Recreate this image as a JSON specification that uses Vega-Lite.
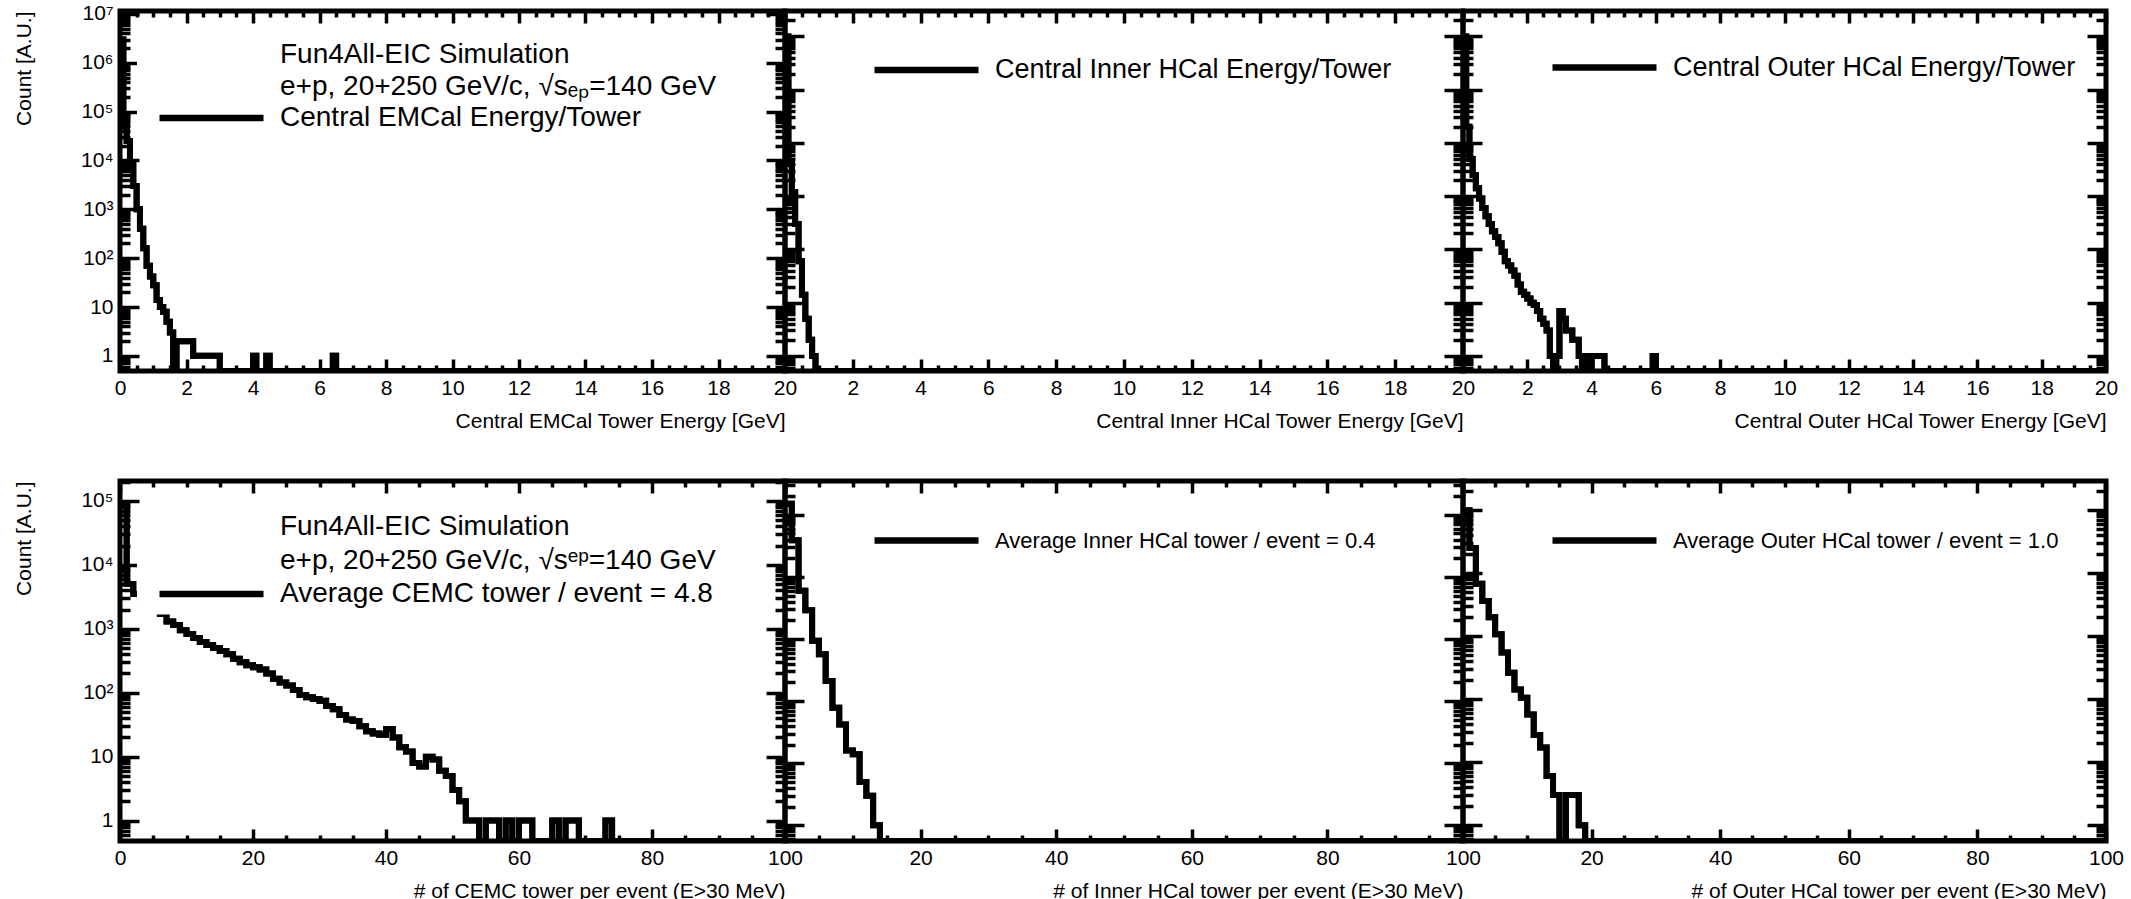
{
"$schema": "https://vega.github.io/schema/vega-lite/v6.json",
"background": "white",
"padding": {"left": 11, "top": 0, "right": 10, "bottom": 0},
"config": {
  "font": "Liberation Sans",
  "view": {"stroke": "black", "strokeWidth": 5},
  "axis": {"domain": false, "grid": false, "tickColor": "black", "tickWidth": 3.5, "labelFont": "Liberation Sans", "labelFontSize": 21, "labelColor": "black", "labelOverlap": false, "labelFlush": false, "titleFont": "Liberation Sans", "titleFontSize": 21, "titleFontWeight": "normal", "titleColor": "black"},
  "legend": {"labelFont": "Liberation Sans", "labelFontSize": 28, "labelColor": "black", "labelLimit": 0, "padding": 6, "fillColor": "white", "symbolType": "M-1,0H7", "symbolSize": 676, "symbolStrokeWidth": 6.5, "symbolOffset": 13, "rowPadding": 0}
},
"datasets": {
  "emcalE": [
    {"e":0,"c":3000000},{"e":0.1,"c":50000},{"e":0.2,"c":25000},{"e":0.3,"c":8000},{"e":0.4,"c":3000},{"e":0.5,"c":1000},{"e":0.6,"c":400},{"e":0.7,"c":160},{"e":0.8,"c":70},{"e":0.9,"c":42},{"e":1.0,"c":28},{"e":1.1,"c":14},{"e":1.2,"c":10},{"e":1.3,"c":8},{"e":1.4,"c":5},{"e":1.5,"c":3},{"e":1.6,"c":0},{"e":1.7,"c":2},{"e":1.8,"c":2},{"e":1.9,"c":2},{"e":2.0,"c":2},{"e":2.1,"c":2},{"e":2.2,"c":1},{"e":2.3,"c":1},{"e":2.4,"c":1},{"e":2.5,"c":1},{"e":2.6,"c":1},{"e":2.7,"c":1},{"e":2.8,"c":1},{"e":2.9,"c":1},{"e":3.0,"c":0},{"e":4.0,"c":1},{"e":4.1,"c":0},{"e":4.4,"c":1},{"e":4.5,"c":0},{"e":6.4,"c":1},{"e":6.5,"c":0},{"e":20,"c":0}
  ],
  "ihcalE": [
    {"e":0,"c":1000000},{"e":0.1,"c":4000},{"e":0.2,"c":1200},{"e":0.3,"c":300},{"e":0.4,"c":60},{"e":0.5,"c":14},{"e":0.6,"c":5},{"e":0.7,"c":2},{"e":0.8,"c":1},{"e":0.9,"c":0},{"e":20,"c":0}
  ],
  "ohcalE": [
    {"e":0,"c":1000000},{"e":0.1,"c":20000},{"e":0.2,"c":5000},{"e":0.3,"c":2500},{"e":0.4,"c":1400},{"e":0.5,"c":900},{"e":0.6,"c":600},{"e":0.7,"c":420},{"e":0.8,"c":300},{"e":0.9,"c":220},{"e":1.0,"c":170},{"e":1.1,"c":130},{"e":1.2,"c":90},{"e":1.3,"c":60},{"e":1.4,"c":50},{"e":1.5,"c":40},{"e":1.6,"c":32},{"e":1.7,"c":22},{"e":1.8,"c":16},{"e":1.9,"c":14},{"e":2.0,"c":12},{"e":2.1,"c":10},{"e":2.2,"c":9},{"e":2.3,"c":7},{"e":2.4,"c":5},{"e":2.5,"c":4},{"e":2.6,"c":3},{"e":2.7,"c":1},{"e":2.8,"c":0},{"e":2.9,"c":1},{"e":3.0,"c":7},{"e":3.1,"c":5},{"e":3.2,"c":3},{"e":3.3,"c":3},{"e":3.4,"c":2},{"e":3.5,"c":2},{"e":3.6,"c":1},{"e":3.7,"c":0},{"e":3.8,"c":1},{"e":3.9,"c":0},{"e":4.0,"c":1},{"e":4.1,"c":1},{"e":4.2,"c":1},{"e":4.3,"c":1},{"e":4.4,"c":0},{"e":5.9,"c":1},{"e":6.0,"c":0},{"e":20,"c":0}
  ],
  "emcalN": [
    {"n":0,"c":90000},{"n":1,"c":5000},{"n":2,"c":3500},{"n":3,"c":3000},{"n":4,"c":2500},{"n":5,"c":2000},{"n":6,"c":1700},{"n":7,"c":1300},{"n":8,"c":1150},{"n":9,"c":950},{"n":10,"c":830},{"n":11,"c":720},{"n":12,"c":620},{"n":13,"c":560},{"n":14,"c":500},{"n":15,"c":450},{"n":16,"c":400},{"n":17,"c":340},{"n":18,"c":300},{"n":19,"c":270},{"n":20,"c":250},{"n":21,"c":230},{"n":22,"c":200},{"n":23,"c":165},{"n":24,"c":145},{"n":25,"c":130},{"n":26,"c":110},{"n":27,"c":92},{"n":28,"c":85},{"n":29,"c":80},{"n":30,"c":75},{"n":31,"c":62},{"n":32,"c":55},{"n":33,"c":45},{"n":34,"c":38},{"n":35,"c":36},{"n":36,"c":30},{"n":37,"c":25},{"n":38,"c":23},{"n":39,"c":22},{"n":40,"c":27},{"n":41,"c":20},{"n":42,"c":14},{"n":43,"c":12},{"n":44,"c":8},{"n":45,"c":7},{"n":46,"c":10},{"n":47,"c":9},{"n":48,"c":6},{"n":49,"c":5},{"n":50,"c":3},{"n":51,"c":2},{"n":52,"c":1},{"n":53,"c":1},{"n":54,"c":0},{"n":55,"c":1},{"n":56,"c":1},{"n":57,"c":0},{"n":58,"c":1},{"n":59,"c":0},{"n":60,"c":1},{"n":61,"c":1},{"n":62,"c":0},{"n":65,"c":1},{"n":66,"c":0},{"n":67,"c":1},{"n":68,"c":1},{"n":69,"c":0},{"n":73,"c":1},{"n":74,"c":0},{"n":100,"c":0}
  ],
  "ihcalN": [
    {"n":0,"c":150000},{"n":1,"c":39000},{"n":2,"c":6000},{"n":3,"c":2900},{"n":4,"c":940},{"n":5,"c":570},{"n":6,"c":210},{"n":7,"c":78},{"n":8,"c":42},{"n":9,"c":16},{"n":10,"c":14},{"n":11,"c":5},{"n":12,"c":3},{"n":13,"c":1},{"n":14,"c":0},{"n":100,"c":0}
  ],
  "ohcalN": [
    {"n":0,"c":100000},{"n":1,"c":25000},{"n":2,"c":6800},{"n":3,"c":3600},{"n":4,"c":2000},{"n":5,"c":1070},{"n":6,"c":550},{"n":7,"c":263},{"n":8,"c":142},{"n":9,"c":105},{"n":10,"c":57},{"n":11,"c":27},{"n":12,"c":17},{"n":13,"c":6},{"n":14,"c":3},{"n":15,"c":0},{"n":16,"c":3},{"n":17,"c":3},{"n":18,"c":1},{"n":19,"c":0},{"n":100,"c":0}
  ]
},
"columns": 3,
"spacing": {"row": 110, "column": 0},
"bounds": "flush",
"align": "each",
"resolve": {"scale": {"x": "independent", "y": "independent", "stroke": "independent"}, "axis": {"x": "independent", "y": "independent"}, "legend": {"stroke": "independent"}},
"concat": [
 {
  "width": 665, "height": 360, "data": {"name": "emcalE"},
  "layer": [
   {"mark": {"type": "line", "interpolate": "step-after", "strokeWidth": 6, "clip": true},
    "encoding": {
     "x": {"field": "e", "type": "quantitative", "scale": {"domain": [0, 20], "nice": false, "zero": false},
       "axis": {"orient": "bottom", "values": [0,0.5,1,1.5,2,2.5,3,3.5,4,4.5,5,5.5,6,6.5,7,7.5,8,8.5,9,9.5,10,10.5,11,11.5,12,12.5,13,13.5,14,14.5,15,15.5,16,16.5,17,17.5,18,18.5,19,19.5,20], "labelExpr": "datum.value % 2 == 0 ? '' + datum.value : ''", "tickSize": {"condition": {"test": "datum.value % 2 == 0", "value": -12}, "value": -6}, "labelPadding": 18, "title": "Central EMCal Tower Energy [GeV]", "titleAnchor": "end", "titlePadding": 6}},
     "y": {"field": "c", "type": "quantitative", "scale": {"type": "log", "domain": [0.49, 11500000], "nice": false, "clamp": true},
       "axis": {"orient": "left", "values": [0.6,0.7,0.8,0.9,1,2,3,4,5,6,7,8,9,10,20,30,40,50,60,70,80,90,100,200,300,400,500,600,700,800,900,1000,2000,3000,4000,5000,6000,7000,8000,9000,10000,20000,30000,40000,50000,60000,70000,80000,90000,100000,200000,300000,400000,500000,600000,700000,800000,900000,1000000,2000000,3000000,4000000,5000000,6000000,7000000,8000000,9000000,10000000], "labelOverlap": false, "labelExpr": "datum.value == 1 ? '1' : datum.value == 10 ? '10' : datum.value == 100 ? '10²' : datum.value == 1000 ? '10³' : datum.value == 10000 ? '10⁴' : datum.value == 100000 ? '10⁵' : datum.value == 1000000 ? '10⁶' : datum.value == 10000000 ? '10⁷' : ''", "tickSize": {"condition": {"test": "abs(log(datum.value)/LN10 - round(log(datum.value)/LN10)) < 0.001", "value": -19}, "value": -10}, "labelPadding": 26, "title": "Count [A.U.]", "titleAnchor": "end", "titlePadding": 46}},
     "stroke": {"datum": "Central EMCal Energy/Tower", "type": "nominal", "scale": {"domain": ["Fun4All-EIC Simulation", "e+p, 20+250 GeV/c, √sₑₚ=140 GeV", "Central EMCal Energy/Tower"], "range": ["transparent", "transparent", "black"]},
       "legend": {"orient": "none", "legendX": 17, "legendY": 21.5, "title": null, "labelOffset": 91, "labelFontSize": 28, "rowPadding": 0.5}}
    }},
   {"mark": {"type": "line", "interpolate": "step-after", "strokeWidth": 6, "clip": true, "color": "black"},
    "encoding": {
     "x": {"field": "e", "type": "quantitative", "axis": {"orient": "top", "values": [0,0.5,1,1.5,2,2.5,3,3.5,4,4.5,5,5.5,6,6.5,7,7.5,8,8.5,9,9.5,10,10.5,11,11.5,12,12.5,13,13.5,14,14.5,15,15.5,16,16.5,17,17.5,18,18.5,19,19.5,20], "labels": false, "title": null, "tickSize": {"condition": {"test": "datum.value % 2 == 0", "value": -12}, "value": -6}}},
     "y": {"field": "c", "type": "quantitative", "axis": {"orient": "right", "values": [0.6,0.7,0.8,0.9,1,2,3,4,5,6,7,8,9,10,20,30,40,50,60,70,80,90,100,200,300,400,500,600,700,800,900,1000,2000,3000,4000,5000,6000,7000,8000,9000,10000,20000,30000,40000,50000,60000,70000,80000,90000,100000,200000,300000,400000,500000,600000,700000,800000,900000,1000000,2000000,3000000,4000000,5000000,6000000,7000000,8000000,9000000,10000000], "labels": false, "title": null, "tickSize": {"condition": {"test": "abs(log(datum.value)/LN10 - round(log(datum.value)/LN10)) < 0.001", "value": -19}, "value": -10}}}
    }}
  ],
  "resolve": {"axis": {"x": "independent", "y": "independent"}}
 },
 {
  "width": 678, "height": 360, "data": {"name": "ihcalE"},
  "layer": [
   {"mark": {"type": "line", "interpolate": "step-after", "strokeWidth": 6, "clip": true},
    "encoding": {
     "x": {"field": "e", "type": "quantitative", "scale": {"domain": [0, 20], "nice": false, "zero": false},
       "axis": {"orient": "bottom", "values": [0,0.5,1,1.5,2,2.5,3,3.5,4,4.5,5,5.5,6,6.5,7,7.5,8,8.5,9,9.5,10,10.5,11,11.5,12,12.5,13,13.5,14,14.5,15,15.5,16,16.5,17,17.5,18,18.5,19,19.5,20], "labelExpr": "datum.value % 2 == 0 && datum.value > 0 ? '' + datum.value : ''", "tickSize": {"condition": {"test": "datum.value % 2 == 0", "value": -12}, "value": -6}, "labelPadding": 18, "title": "Central Inner HCal Tower Energy [GeV]", "titleAnchor": "end", "titlePadding": 6}},
     "y": {"field": "c", "type": "quantitative", "scale": {"type": "log", "domain": [0.52, 3000000], "nice": false, "clamp": true},
       "axis": {"orient": "left", "values": [0.6,0.7,0.8,0.9,1,2,3,4,5,6,7,8,9,10,20,30,40,50,60,70,80,90,100,200,300,400,500,600,700,800,900,1000,2000,3000,4000,5000,6000,7000,8000,9000,10000,20000,30000,40000,50000,60000,70000,80000,90000,100000,200000,300000,400000,500000,600000,700000,800000,900000,1000000,2000000], "labels": false, "title": null, "tickSize": {"condition": {"test": "abs(log(datum.value)/LN10 - round(log(datum.value)/LN10)) < 0.001", "value": -19}, "value": -10}}},
     "stroke": {"datum": "Central Inner HCal Energy/Tower", "type": "nominal", "scale": {"domain": ["Central Inner HCal Energy/Tower"], "range": ["black"]},
       "legend": {"orient": "none", "legendX": 67, "legendY": 36.5, "title": null, "labelOffset": 91, "labelFontSize": 27}}
    }},
   {"mark": {"type": "line", "interpolate": "step-after", "strokeWidth": 6, "clip": true, "color": "black"},
    "encoding": {
     "x": {"field": "e", "type": "quantitative", "axis": {"orient": "top", "values": [0,0.5,1,1.5,2,2.5,3,3.5,4,4.5,5,5.5,6,6.5,7,7.5,8,8.5,9,9.5,10,10.5,11,11.5,12,12.5,13,13.5,14,14.5,15,15.5,16,16.5,17,17.5,18,18.5,19,19.5,20], "labels": false, "title": null, "tickSize": {"condition": {"test": "datum.value % 2 == 0", "value": -12}, "value": -6}}},
     "y": {"field": "c", "type": "quantitative", "axis": {"orient": "right", "values": [0.6,0.7,0.8,0.9,1,2,3,4,5,6,7,8,9,10,20,30,40,50,60,70,80,90,100,200,300,400,500,600,700,800,900,1000,2000,3000,4000,5000,6000,7000,8000,9000,10000,20000,30000,40000,50000,60000,70000,80000,90000,100000,200000,300000,400000,500000,600000,700000,800000,900000,1000000,2000000], "labels": false, "title": null, "tickSize": {"condition": {"test": "abs(log(datum.value)/LN10 - round(log(datum.value)/LN10)) < 0.001", "value": -19}, "value": -10}}}
    }}
  ],
  "resolve": {"axis": {"x": "independent", "y": "independent"}}
 },
 {
  "width": 643, "height": 360, "data": {"name": "ohcalE"},
  "layer": [
   {"mark": {"type": "line", "interpolate": "step-after", "strokeWidth": 6, "clip": true},
    "encoding": {
     "x": {"field": "e", "type": "quantitative", "scale": {"domain": [0, 20], "nice": false, "zero": false},
       "axis": {"orient": "bottom", "values": [0,0.5,1,1.5,2,2.5,3,3.5,4,4.5,5,5.5,6,6.5,7,7.5,8,8.5,9,9.5,10,10.5,11,11.5,12,12.5,13,13.5,14,14.5,15,15.5,16,16.5,17,17.5,18,18.5,19,19.5,20], "labelExpr": "datum.value % 2 == 0 && datum.value > 0 ? '' + datum.value : ''", "tickSize": {"condition": {"test": "datum.value % 2 == 0", "value": -12}, "value": -6}, "labelPadding": 18, "title": "Central Outer HCal Tower Energy [GeV]", "titleAnchor": "end", "titlePadding": 6}},
     "y": {"field": "c", "type": "quantitative", "scale": {"type": "log", "domain": [0.52, 3000000], "nice": false, "clamp": true},
       "axis": {"orient": "left", "values": [0.6,0.7,0.8,0.9,1,2,3,4,5,6,7,8,9,10,20,30,40,50,60,70,80,90,100,200,300,400,500,600,700,800,900,1000,2000,3000,4000,5000,6000,7000,8000,9000,10000,20000,30000,40000,50000,60000,70000,80000,90000,100000,200000,300000,400000,500000,600000,700000,800000,900000,1000000,2000000], "labels": false, "title": null, "tickSize": {"condition": {"test": "abs(log(datum.value)/LN10 - round(log(datum.value)/LN10)) < 0.001", "value": -19}, "value": -10}}},
     "stroke": {"datum": "Central Outer HCal Energy/Tower", "type": "nominal", "scale": {"domain": ["Central Outer HCal Energy/Tower"], "range": ["black"]},
       "legend": {"orient": "none", "legendX": 67, "legendY": 34, "title": null, "labelOffset": 91, "labelFontSize": 27}}
    }},
   {"mark": {"type": "line", "interpolate": "step-after", "strokeWidth": 6, "clip": true, "color": "black"},
    "encoding": {
     "x": {"field": "e", "type": "quantitative", "axis": {"orient": "top", "values": [0,0.5,1,1.5,2,2.5,3,3.5,4,4.5,5,5.5,6,6.5,7,7.5,8,8.5,9,9.5,10,10.5,11,11.5,12,12.5,13,13.5,14,14.5,15,15.5,16,16.5,17,17.5,18,18.5,19,19.5,20], "labels": false, "title": null, "tickSize": {"condition": {"test": "datum.value % 2 == 0", "value": -12}, "value": -6}}},
     "y": {"field": "c", "type": "quantitative", "axis": {"orient": "right", "values": [0.6,0.7,0.8,0.9,1,2,3,4,5,6,7,8,9,10,20,30,40,50,60,70,80,90,100,200,300,400,500,600,700,800,900,1000,2000,3000,4000,5000,6000,7000,8000,9000,10000,20000,30000,40000,50000,60000,70000,80000,90000,100000,200000,300000,400000,500000,600000,700000,800000,900000,1000000,2000000], "labels": false, "title": null, "tickSize": {"condition": {"test": "abs(log(datum.value)/LN10 - round(log(datum.value)/LN10)) < 0.001", "value": -19}, "value": -10}}}
    }}
  ],
  "resolve": {"axis": {"x": "independent", "y": "independent"}}
 },
 {
  "width": 665, "height": 360, "data": {"name": "emcalN"},
  "layer": [
   {"mark": {"type": "line", "interpolate": "step-after", "strokeWidth": 6, "clip": true},
    "encoding": {
     "x": {"field": "n", "type": "quantitative", "scale": {"domain": [0, 100], "nice": false, "zero": false},
       "axis": {"orient": "bottom", "values": [0,5,10,15,20,25,30,35,40,45,50,55,60,65,70,75,80,85,90,95,100], "labelExpr": "datum.value % 20 == 0 ? '' + datum.value : ''", "tickSize": {"condition": {"test": "datum.value % 20 == 0", "value": -12}, "value": -6}, "labelPadding": 18, "title": "# of CEMC tower per event (E>30 MeV)", "titleAnchor": "end", "titlePadding": 6}},
     "y": {"field": "c", "type": "quantitative", "scale": {"type": "log", "domain": [0.48, 205000], "nice": false, "clamp": true},
       "axis": {"orient": "left", "values": [0.6,0.7,0.8,0.9,1,2,3,4,5,6,7,8,9,10,20,30,40,50,60,70,80,90,100,200,300,400,500,600,700,800,900,1000,2000,3000,4000,5000,6000,7000,8000,9000,10000,20000,30000,40000,50000,60000,70000,80000,90000,100000,200000], "labelOverlap": false, "labelExpr": "datum.value == 1 ? '1' : datum.value == 10 ? '10' : datum.value == 100 ? '10²' : datum.value == 1000 ? '10³' : datum.value == 10000 ? '10⁴' : datum.value == 100000 ? '10⁵' : ''", "tickSize": {"condition": {"test": "abs(log(datum.value)/LN10 - round(log(datum.value)/LN10)) < 0.001", "value": -19}, "value": -10}, "labelPadding": 26, "title": "Count [A.U.]", "titleAnchor": "end", "titlePadding": 46}},
     "stroke": {"datum": "Average CEMC tower / event = 4.8", "type": "nominal", "scale": {"domain": ["Fun4All-EIC Simulation", "e+p, 20+250 GeV/c, √sᵉᵖ=140 GeV", "Average CEMC tower / event = 4.8"], "range": ["transparent", "transparent", "black"]},
       "legend": {"orient": "none", "legendX": 17, "legendY": 23.5, "title": null, "labelOffset": 91, "labelFontSize": 28, "rowPadding": 2.5}}
    }},
   {"mark": {"type": "line", "interpolate": "step-after", "strokeWidth": 6, "clip": true, "color": "black"},
    "encoding": {
     "x": {"field": "n", "type": "quantitative", "axis": {"orient": "top", "values": [0,5,10,15,20,25,30,35,40,45,50,55,60,65,70,75,80,85,90,95,100], "labels": false, "title": null, "tickSize": {"condition": {"test": "datum.value % 20 == 0", "value": -12}, "value": -6}}},
     "y": {"field": "c", "type": "quantitative", "axis": {"orient": "right", "values": [0.6,0.7,0.8,0.9,1,2,3,4,5,6,7,8,9,10,20,30,40,50,60,70,80,90,100,200,300,400,500,600,700,800,900,1000,2000,3000,4000,5000,6000,7000,8000,9000,10000,20000,30000,40000,50000,60000,70000,80000,90000,100000,200000], "labels": false, "title": null, "tickSize": {"condition": {"test": "abs(log(datum.value)/LN10 - round(log(datum.value)/LN10)) < 0.001", "value": -19}, "value": -10}}}
    }}
  ],
  "resolve": {"axis": {"x": "independent", "y": "independent"}}
 },
 {
  "width": 678, "height": 360, "data": {"name": "ihcalN"},
  "layer": [
   {"mark": {"type": "line", "interpolate": "step-after", "strokeWidth": 6, "clip": true},
    "encoding": {
     "x": {"field": "n", "type": "quantitative", "scale": {"domain": [0, 100], "nice": false, "zero": false},
       "axis": {"orient": "bottom", "values": [0,5,10,15,20,25,30,35,40,45,50,55,60,65,70,75,80,85,90,95,100], "labelExpr": "datum.value % 20 == 0 && datum.value > 0 ? '' + datum.value : ''", "tickSize": {"condition": {"test": "datum.value % 20 == 0", "value": -12}, "value": -6}, "labelPadding": 18, "title": "# of Inner HCal tower per event (E>30 MeV)", "titleAnchor": "end", "titlePadding": 6}},
     "y": {"field": "c", "type": "quantitative", "scale": {"type": "log", "domain": [0.56, 350000], "nice": false, "clamp": true},
       "axis": {"orient": "left", "values": [0.6,0.7,0.8,0.9,1,2,3,4,5,6,7,8,9,10,20,30,40,50,60,70,80,90,100,200,300,400,500,600,700,800,900,1000,2000,3000,4000,5000,6000,7000,8000,9000,10000,20000,30000,40000,50000,60000,70000,80000,90000,100000,200000,300000], "labels": false, "title": null, "tickSize": {"condition": {"test": "abs(log(datum.value)/LN10 - round(log(datum.value)/LN10)) < 0.001", "value": -19}, "value": -10}}},
     "stroke": {"datum": "Average Inner HCal tower / event = 0.4", "type": "nominal", "scale": {"domain": ["Average Inner HCal tower / event = 0.4"], "range": ["black"]},
       "legend": {"orient": "none", "legendX": 67, "legendY": 37, "title": null, "labelOffset": 91, "labelFontSize": 22}}
    }},
   {"mark": {"type": "line", "interpolate": "step-after", "strokeWidth": 6, "clip": true, "color": "black"},
    "encoding": {
     "x": {"field": "n", "type": "quantitative", "axis": {"orient": "top", "values": [0,5,10,15,20,25,30,35,40,45,50,55,60,65,70,75,80,85,90,95,100], "labels": false, "title": null, "tickSize": {"condition": {"test": "datum.value % 20 == 0", "value": -12}, "value": -6}}},
     "y": {"field": "c", "type": "quantitative", "axis": {"orient": "right", "values": [0.6,0.7,0.8,0.9,1,2,3,4,5,6,7,8,9,10,20,30,40,50,60,70,80,90,100,200,300,400,500,600,700,800,900,1000,2000,3000,4000,5000,6000,7000,8000,9000,10000,20000,30000,40000,50000,60000,70000,80000,90000,100000,200000,300000], "labels": false, "title": null, "tickSize": {"condition": {"test": "abs(log(datum.value)/LN10 - round(log(datum.value)/LN10)) < 0.001", "value": -19}, "value": -10}}}
    }}
  ],
  "resolve": {"axis": {"x": "independent", "y": "independent"}}
 },
 {
  "width": 643, "height": 360, "data": {"name": "ohcalN"},
  "layer": [
   {"mark": {"type": "line", "interpolate": "step-after", "strokeWidth": 6, "clip": true},
    "encoding": {
     "x": {"field": "n", "type": "quantitative", "scale": {"domain": [0, 100], "nice": false, "zero": false},
       "axis": {"orient": "bottom", "values": [0,5,10,15,20,25,30,35,40,45,50,55,60,65,70,75,80,85,90,95,100], "labelExpr": "datum.value % 20 == 0 && datum.value > 0 ? '' + datum.value : ''", "tickSize": {"condition": {"test": "datum.value % 20 == 0", "value": -12}, "value": -6}, "labelPadding": 18, "title": "# of Outer HCal tower per event (E>30 MeV)", "titleAnchor": "end", "titlePadding": 6}},
     "y": {"field": "c", "type": "quantitative", "scale": {"type": "log", "domain": [0.56, 290000], "nice": false, "clamp": true},
       "axis": {"orient": "left", "values": [0.6,0.7,0.8,0.9,1,2,3,4,5,6,7,8,9,10,20,30,40,50,60,70,80,90,100,200,300,400,500,600,700,800,900,1000,2000,3000,4000,5000,6000,7000,8000,9000,10000,20000,30000,40000,50000,60000,70000,80000,90000,100000,200000], "labels": false, "title": null, "tickSize": {"condition": {"test": "abs(log(datum.value)/LN10 - round(log(datum.value)/LN10)) < 0.001", "value": -19}, "value": -10}}},
     "stroke": {"datum": "Average Outer HCal tower / event = 1.0", "type": "nominal", "scale": {"domain": ["Average Outer HCal tower / event = 1.0"], "range": ["black"]},
       "legend": {"orient": "none", "legendX": 67, "legendY": 37, "title": null, "labelOffset": 91, "labelFontSize": 22}}
    }},
   {"mark": {"type": "line", "interpolate": "step-after", "strokeWidth": 6, "clip": true, "color": "black"},
    "encoding": {
     "x": {"field": "n", "type": "quantitative", "axis": {"orient": "top", "values": [0,5,10,15,20,25,30,35,40,45,50,55,60,65,70,75,80,85,90,95,100], "labels": false, "title": null, "tickSize": {"condition": {"test": "datum.value % 20 == 0", "value": -12}, "value": -6}}},
     "y": {"field": "c", "type": "quantitative", "axis": {"orient": "right", "values": [0.6,0.7,0.8,0.9,1,2,3,4,5,6,7,8,9,10,20,30,40,50,60,70,80,90,100,200,300,400,500,600,700,800,900,1000,2000,3000,4000,5000,6000,7000,8000,9000,10000,20000,30000,40000,50000,60000,70000,80000,90000,100000,200000], "labels": false, "title": null, "tickSize": {"condition": {"test": "abs(log(datum.value)/LN10 - round(log(datum.value)/LN10)) < 0.001", "value": -19}, "value": -10}}}
    }}
  ],
  "resolve": {"axis": {"x": "independent", "y": "independent"}}
 }
]
}
